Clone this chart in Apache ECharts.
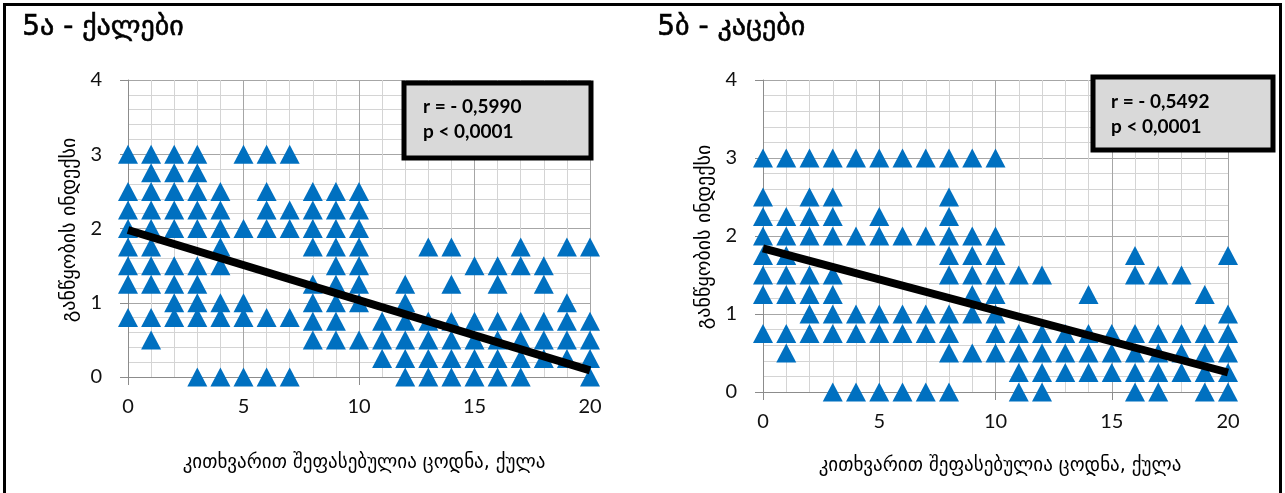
<!DOCTYPE html>
<html>
<head>
<meta charset="utf-8">
<script src="https://cdn.jsdelivr.net/npm/echarts@6/dist/echarts.min.js"></script>
<style>
html,body{margin:0;padding:0;background:#fff;}
#chart{width:1285px;height:493px;}
</style>
</head>
<body>
<div id="chart"></div>
<script>
// knowledge score (x) categories
var scores = [0,1,2,3,4,5,6,7,8,9,10,11,12,13,14,15,16,17,18,19,20];
var xTicks = [0,5,10,15,20];
var yTicks = [0,1,2,3,4];

// 5a - women: index values observed at each score
var womenIndex = [
  [3,2.5,2.25,2,1.75,1.5,1.25,0.8],
  [3,2.75,2.5,2.25,2,1.75,1.5,1.25,0.8,0.5],
  [3,2.75,2.5,2.25,2,1.5,1.25,1,0.8],
  [3,2.75,2.5,2.25,2,1.5,1.25,1,0.8,0],
  [2.5,2.25,2,1.75,1.5,1,0.8,0],
  [3,2,1,0.8,0],
  [3,2.5,2.25,2,0.8,0],
  [3,2.25,2,0.8,0],
  [2.5,2.25,2,1.75,1.25,1,0.75,0.5],
  [2.5,2.25,2,1.75,1.5,1.25,1,0.75,0.5],
  [2.5,2.25,2,1.75,1.5,1.25,1,0.5],
  [0.75,0.5,0.25],
  [1.25,1,0.75,0.5,0.25,0],
  [1.75,0.75,0.5,0.25,0],
  [1.75,1.25,0.75,0.5,0.25,0],
  [1.5,0.75,0.5,0.25,0],
  [1.5,1.25,0.75,0.5,0.25,0],
  [1.75,1.5,0.75,0.5,0.25,0],
  [1.5,1.25,0.75,0.5,0.25],
  [1.75,1,0.75,0.5,0.25],
  [1.75,0.75,0.5,0.25,0]
];
// 5b - men
var menIndex = [
  [3,2.5,2.25,2,1.75,1.5,1.25,0.75],
  [3,2.25,2,1.75,1.5,1.25,0.75,0.5],
  [3,2.5,2.25,2,1.5,1.25,1,0.75],
  [3,2.5,2.25,2,1.5,1.25,1,0.75,0],
  [3,2,1,0.75,0],
  [3,2.25,2,1,0.75,0],
  [3,2,1,0.75,0],
  [3,2,1,0.75,0],
  [3,2.5,2.25,2,1.75,1.5,1,0.75,0.5,0],
  [3,2,1.75,1.5,1.25,1,0.5],
  [3,2,1.75,1.5,1.25,1,0.75,0.5],
  [1.5,0.75,0.5,0.25,0],
  [1.5,0.75,0.5,0.25,0],
  [0.75,0.5,0.25],
  [1.25,0.75,0.5,0.25],
  [0.75,0.5,0.25],
  [1.75,1.5,0.75,0.5,0.25,0],
  [1.5,0.75,0.5,0.25,0],
  [1.5,0.75,0.5,0.25],
  [1.25,0.75,0.5,0.25,0],
  [1.75,1,0.75,0.5,0.25,0]
];
// regression lines (endpoints)
var trendWomen = [[0,1.98],[20,0.09]];
var trendMen = [[0,1.84],[20,0.25]];

var titleWomen = '5ა - ქალები';
var titleMen = '5ბ - კაცები';
var statsWomen = ['r = - 0,5990','p < 0,0001'];
var statsMen = ['r = - 0,5492','p < 0,0001'];
var xTitle = 'კითხვარით შეფასებულია ცოდნა, ქულა';
var yTitle = 'განწყობის ინდექსი';

function pts(arr){
  var out=[];
  arr.forEach(function(list,i){ list.forEach(function(v){ out.push([scores[i], v]); }); });
  return out;
}

var tickFont = {fontFamily:'Lato, "DejaVu Sans", sans-serif', fontSize:20, color:'#111'};
var georgFont = '"DejaVu Sans", "Noto Sans", sans-serif';

function xAx(idx){
  return {gridIndex:idx, type:'value', min:0, max:20, interval:5,
    axisLine:{show:true, lineStyle:{color:'#8c8c8c', width:1}},
    axisTick:{show:true, length:8, lineStyle:{color:'#8c8c8c'}},
    axisLabel:Object.assign({margin:20}, tickFont),
    splitLine:{show:true, lineStyle:{color:'#a6a6a6', width:1}},
    minorTick:{show:false, splitNumber:5},
    minorSplitLine:{show:true, lineStyle:{color:'#d4d4d4', width:1}}
  };
}
function yAx(idx){
  return {gridIndex:idx, type:'value', min:0, max:4, interval:1,
    axisLine:{show:true, lineStyle:{color:'#8c8c8c', width:1}},
    axisTick:{show:true, length:8, lineStyle:{color:'#8c8c8c'}},
    axisLabel:Object.assign({margin:26}, tickFont),
    splitLine:{show:true, lineStyle:{color:'#a6a6a6', width:1}},
    minorTick:{show:false, splitNumber:5},
    minorSplitLine:{show:true, lineStyle:{color:'#d4d4d4', width:1}}
  };
}

var chart = echarts.init(document.getElementById('chart'), null, {renderer:'canvas'});
var option = {
  animation:false,
  backgroundColor:'#fff',
  grid:[
    {left:128, top:80, width:462, height:297},
    {left:763, top:80, width:465, height:312}
  ],
  xAxis:[xAx(0), xAx(1)],
  yAxis:[yAx(0), yAx(1)],
  series:[
    {type:'scatter', xAxisIndex:0, yAxisIndex:0, data:pts(womenIndex), symbol:'triangle', symbolSize:[20,19], itemStyle:{color:'#0070C0', opacity:1}, z:2},
    {type:'line', xAxisIndex:0, yAxisIndex:0, data:trendWomen, showSymbol:false, symbol:'none', lineStyle:{color:'#000', width:8}, z:3},
    {type:'scatter', xAxisIndex:1, yAxisIndex:1, data:pts(menIndex), symbol:'triangle', symbolSize:[20,19], itemStyle:{color:'#0070C0', opacity:1}, z:2},
    {type:'line', xAxisIndex:1, yAxisIndex:1, data:trendMen, showSymbol:false, symbol:'none', lineStyle:{color:'#000', width:8}, z:3}
  ],
  graphic:[
    {type:'rect', shape:{x:4.5, y:4.5, width:1276, height:500}, style:{fill:'none', stroke:'#000', lineWidth:3}, z:10},
    {type:'text', left:22, top:13, style:{text:titleWomen, font:'28px '+georgFont, fill:'#000', stroke:'#000', lineWidth:0.6}},
    {type:'text', left:657, top:13, style:{text:titleMen, font:'28px '+georgFont, fill:'#000', stroke:'#000', lineWidth:0.6}},
    {type:'rect', shape:{x:404, y:83, width:187, height:75}, style:{fill:'#d9d9d9', stroke:'#000', lineWidth:5}, z:5},
    {type:'text', x:423, y:107, style:{text:statsWomen[0], font:'bold 19px Lato, sans-serif', fill:'#000', verticalAlign:'middle'}, z:6},
    {type:'text', x:423, y:132, style:{text:statsWomen[1], font:'bold 19px Lato, sans-serif', fill:'#000', verticalAlign:'middle'}, z:6},
    {type:'rect', shape:{x:1093, y:77, width:180, height:73}, style:{fill:'#d9d9d9', stroke:'#000', lineWidth:5}, z:5},
    {type:'text', x:1111, y:102, style:{text:statsMen[0], font:'bold 19px Lato, sans-serif', fill:'#000', verticalAlign:'middle'}, z:6},
    {type:'text', x:1111, y:127, style:{text:statsMen[1], font:'bold 19px Lato, sans-serif', fill:'#000', verticalAlign:'middle'}, z:6},
    {type:'text', x:364, y:463, style:{text:xTitle, font:'19px '+georgFont, fill:'#000', align:'center', verticalAlign:'middle'}},
    {type:'text', x:1000, y:466, style:{text:xTitle, font:'19px '+georgFont, fill:'#000', align:'center', verticalAlign:'middle'}},
    {type:'text', x:70, y:230, rotation:Math.PI/2, style:{text:yTitle, font:'20px '+georgFont, fill:'#000', align:'center', verticalAlign:'middle'}},
    {type:'text', x:705, y:237, rotation:Math.PI/2, style:{text:yTitle, font:'20px '+georgFont, fill:'#000', align:'center', verticalAlign:'middle'}}
  ]
};
chart.setOption(option);
</script>
</body>
</html>
